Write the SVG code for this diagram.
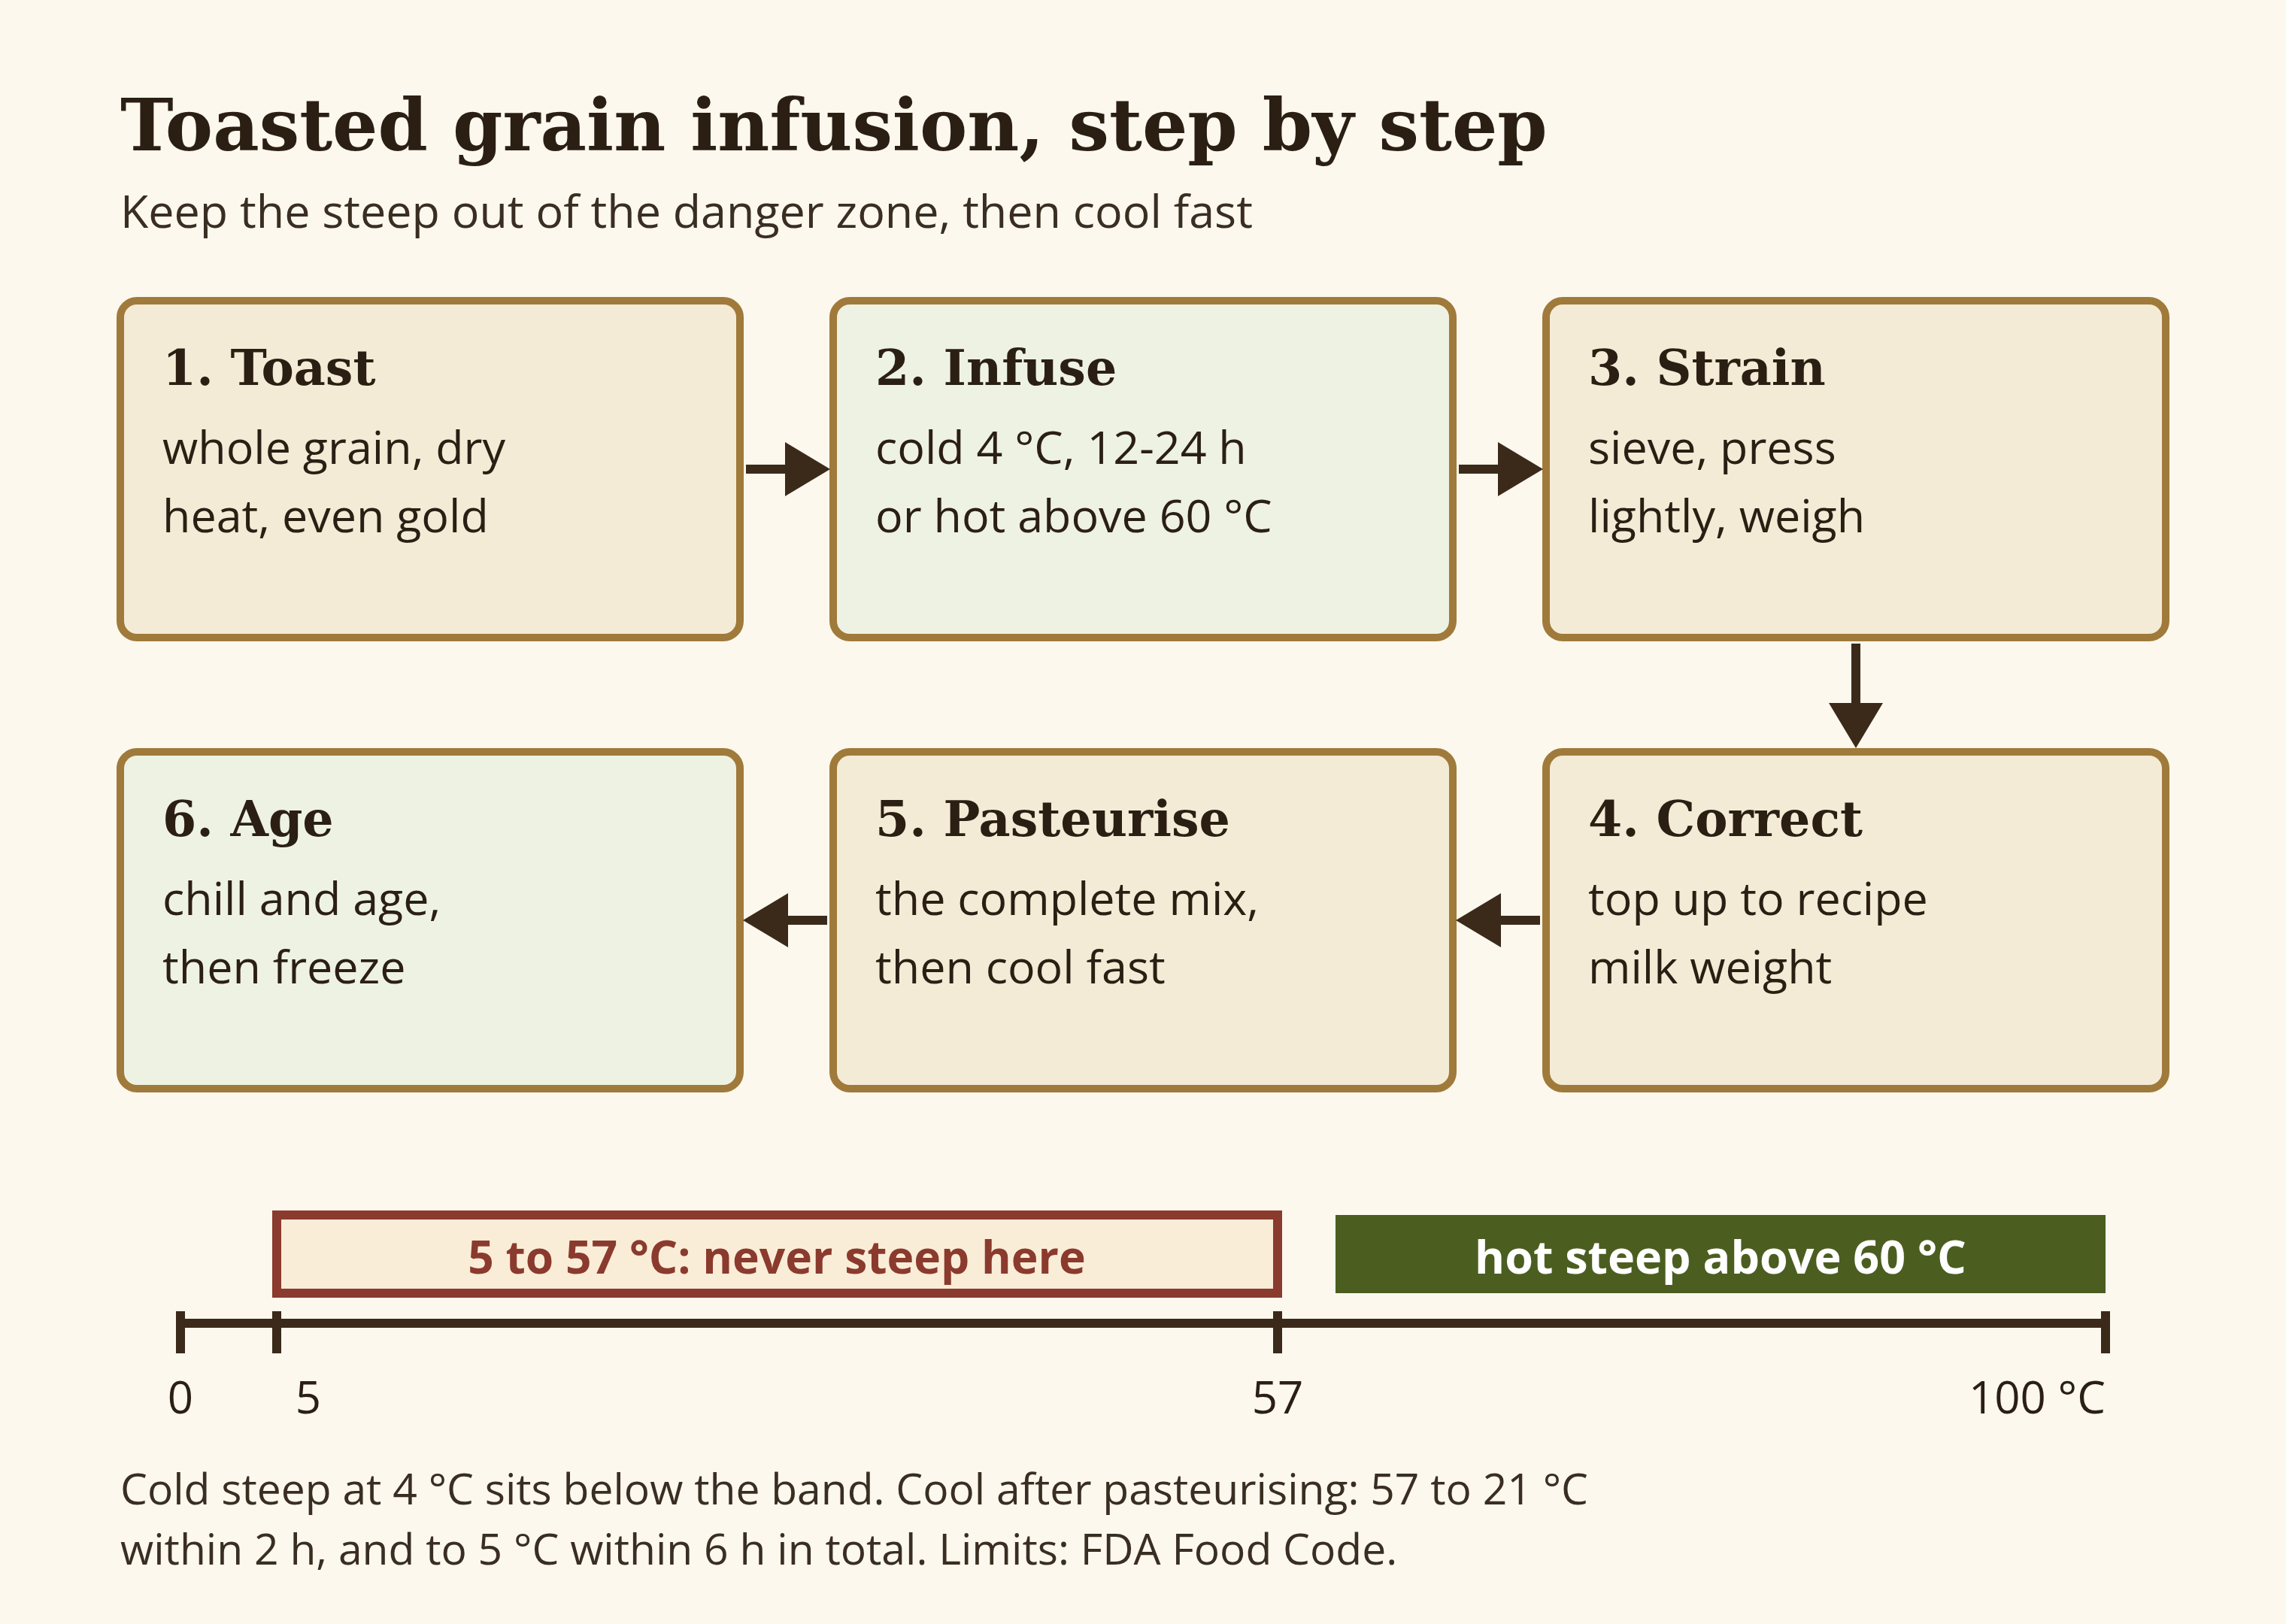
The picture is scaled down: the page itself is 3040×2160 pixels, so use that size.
<svg xmlns="http://www.w3.org/2000/svg" width="3040" height="2160" viewBox="0 0 3040 2160">
<defs>
<style>
.bg{fill:#FCF8EE}
.box{stroke:#A07A3A;stroke-width:10}
.beige{fill:#F4EBD6}
.green{fill:#EEF2E3}
.ttl{font-family:"DejaVu Serif","Liberation Serif",serif;font-weight:bold;fill:#2B1F14}
.sans{font-family:"Open Sans","Noto Sans","Liberation Sans",sans-serif;fill:#2B1F14}
.nt{font-size:65px}
.nb{font-size:61px}
.conn line{stroke:#3B2A1A;stroke-width:12}
.axis{stroke:#3B2A1A;stroke-width:12}
</style>
<marker id="ah" markerUnits="userSpaceOnUse" markerWidth="60" markerHeight="72" refX="6" refY="36" orient="auto" viewBox="0 0 60 72">
<path d="M0,0 L60,36 L0,72 Z" fill="#3B2A1A"/>
</marker>
</defs>
<rect class="bg" x="0" y="0" width="3040" height="2160"/>
<g id="header">
<text class="ttl" x="160" y="200" font-size="95">Toasted grain infusion, step by step</text>
<text class="sans" x="160" y="303" font-size="61" style="fill:#3A2E22">Keep the steep out of the danger zone, then cool fast</text>
</g>
<g id="node-1">
<rect class="box beige" x="160" y="400" width="824" height="448" rx="22"/>
<text class="ttl nt" x="216" y="512">1. Toast</text>
<text class="sans nb" x="216" y="617">whole grain, dry</text>
<text class="sans nb" x="216" y="708">heat, even gold</text>
</g>
<g id="node-2">
<rect class="box green" x="1108" y="400" width="824" height="448" rx="22"/>
<text class="ttl nt" x="1164" y="512">2. Infuse</text>
<text class="sans nb" x="1164" y="617">cold 4 °C, 12-24 h</text>
<text class="sans nb" x="1164" y="708">or hot above 60 °C</text>
</g>
<g id="node-3">
<rect class="box beige" x="2056" y="400" width="824" height="448" rx="22"/>
<text class="ttl nt" x="2112" y="512">3. Strain</text>
<text class="sans nb" x="2112" y="617">sieve, press</text>
<text class="sans nb" x="2112" y="708">lightly, weigh</text>
</g>
<g id="node-4">
<rect class="box beige" x="2056" y="1000" width="824" height="448" rx="22"/>
<text class="ttl nt" x="2112" y="1112">4. Correct</text>
<text class="sans nb" x="2112" y="1217">top up to recipe</text>
<text class="sans nb" x="2112" y="1308">milk weight</text>
</g>
<g id="node-5">
<rect class="box beige" x="1108" y="1000" width="824" height="448" rx="22"/>
<text class="ttl nt" x="1164" y="1112">5. Pasteurise</text>
<text class="sans nb" x="1164" y="1217">the complete mix,</text>
<text class="sans nb" x="1164" y="1308">then cool fast</text>
</g>
<g id="node-6">
<rect class="box green" x="160" y="1000" width="824" height="448" rx="22"/>
<text class="ttl nt" x="216" y="1112">6. Age</text>
<text class="sans nb" x="216" y="1217">chill and age,</text>
<text class="sans nb" x="216" y="1308">then freeze</text>
</g>
<g id="connectors" class="conn">
<line x1="992" y1="624" x2="1050" y2="624" marker-end="url(#ah)"/>
<line x1="1940" y1="624" x2="1998" y2="624" marker-end="url(#ah)"/>
<line x1="2468" y1="856" x2="2468" y2="941" marker-end="url(#ah)"/>
<line x1="2048" y1="1224" x2="1990" y2="1224" marker-end="url(#ah)"/>
<line x1="1100" y1="1224" x2="1042" y2="1224" marker-end="url(#ah)"/>
</g>
<g id="temperature-scale">
<rect x="368" y="1616" width="1331" height="104" fill="#FAEDD8" stroke="#8B3A2E" stroke-width="12"/>
<text class="sans" x="1033" y="1694" font-size="60.5" font-weight="bold" text-anchor="middle" style="fill:#8B3A2E">5 to 57 °C: never steep here</text>
<rect x="1776" y="1616" width="1024" height="104" fill="#4B5E20"/>
<text class="sans" x="2288" y="1694" font-size="61" font-weight="bold" text-anchor="middle" style="fill:#FFFFFF">hot steep above 60 °C</text>
<line class="axis" x1="240" y1="1760" x2="2800" y2="1760"/>
<line class="axis" x1="240" y1="1744" x2="240" y2="1800"/>
<line class="axis" x1="368" y1="1744" x2="368" y2="1800"/>
<line class="axis" x1="1699" y1="1744" x2="1699" y2="1800"/>
<line class="axis" x1="2800" y1="1744" x2="2800" y2="1800"/>
<text class="sans" x="240" y="1880" font-size="60" text-anchor="middle">0</text>
<text class="sans" x="410" y="1880" font-size="60" text-anchor="middle">5</text>
<text class="sans" x="1699" y="1880" font-size="60" text-anchor="middle">57</text>
<text class="sans" x="2800" y="1880" font-size="60" text-anchor="end">100 °C</text>
</g>
<g id="footnote">
<text class="sans" x="160" y="2001" font-size="57" style="fill:#3A2E22">Cold steep at 4 °C sits below the band. Cool after pasteurising: 57 to 21 °C</text>
<text class="sans" x="160" y="2081" font-size="57" style="fill:#3A2E22">within 2 h, and to 5 °C within 6 h in total. Limits: FDA Food Code.</text>
</g>
</svg>
